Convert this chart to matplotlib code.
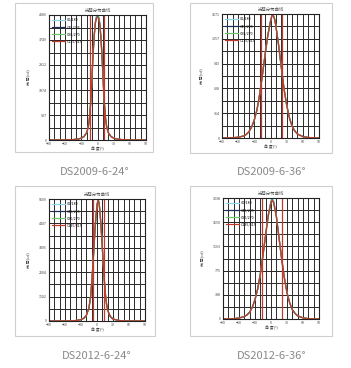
import matplotlib
matplotlib.use('Agg')
import matplotlib.pyplot as plt
from matplotlib.patches import Rectangle

plt.rcParams['font.family'] = ['Noto Sans CJK SC', 'DejaVu Sans']

W, H = 351, 368

# ---- data ----
series_names = ['C0/180', 'C45/225', 'C90/270', 'C135/315']
series_colors = ['#8fd3ea', '#1f2f5c', '#6cc46c', '#c0392b']

captions = ['DS2009-6-24°', 'DS2009-6-36°', 'DS2012-6-24°', 'DS2012-6-36°']
y_max = [4686, 1571, 5509, 1938]
beam_edges = [(-13, 12), (-18, 22), (-7, 13), (-16, 21)]

ang_a = [-90, -60, -45, -35, -30, -25, -20, -17, -15, -13, -12, -11, -10, -9, -8, -7, -6, -5, -4,
         -3, -2, -1, 0, 1, 2, 3, 4, 5, 6, 7, 8, 9, 10, 11, 12, 13, 15, 17, 20, 25, 30, 35, 45, 60, 90]
a_c0 = [0, 5, 15, 40, 70, 130, 280, 500, 800, 1300, 1650, 2050, 2500, 2900, 3300, 3650, 3950, 4200, 4420,
        4560, 4640, 4680, 4686, 4680, 4640, 4560, 4420, 4200, 3950, 3650, 3300, 2900, 2500, 2050, 1650, 1300, 800, 500, 280, 130, 70, 40, 15, 5, 0]
a_c45 = [0, 5, 15, 40, 70, 130, 280, 500, 800, 1300, 1640, 2040, 2480, 2880, 3280, 3630, 3930, 4180, 4390,
         4520, 4590, 4620, 4630, 4620, 4590, 4520, 4390, 4180, 3930, 3630, 3280, 2880, 2480, 2040, 1640, 1300, 800, 500, 280, 130, 70, 40, 15, 5, 0]
a_c90 = [0, 5, 15, 40, 70, 130, 280, 500, 800, 1290, 1630, 2030, 2470, 2870, 3270, 3620, 3920, 4170, 4380,
         4500, 4570, 4600, 4610, 4600, 4570, 4500, 4380, 4170, 3920, 3620, 3270, 2870, 2470, 2030, 1630, 1290, 800, 500, 280, 130, 70, 40, 15, 5, 0]
a_c135 = [0, 5, 15, 40, 70, 130, 280, 500, 800, 1280, 1620, 2020, 2460, 2860, 3260, 3610, 3900, 4150, 4360,
          4480, 4550, 4580, 4590, 4580, 4550, 4480, 4360, 4150, 3900, 3610, 3260, 2860, 2460, 2020, 1620, 1280, 800, 500, 280, 130, 70, 40, 15, 5, 0]

ang_b = [-90, -70, -60, -50, -45, -40, -35, -30, -25, -20, -15, -10, -5, 0, 3, 5, 8, 10, 15,
         20, 25, 30, 35, 40, 45, 50, 60, 70, 90]
b_c0 = [0, 3, 10, 25, 45, 80, 140, 230, 360, 560, 800, 1065, 1310, 1490, 1571, 1565, 1505, 1425, 1185,
        905, 635, 420, 260, 150, 90, 50, 18, 6, 0]
b_c45 = [0, 3, 10, 25, 45, 80, 140, 230, 360, 560, 800, 1060, 1300, 1480, 1560, 1555, 1500, 1420, 1180,
         900, 630, 420, 260, 150, 90, 50, 18, 6, 0]
b_c90 = [0, 3, 10, 25, 45, 80, 140, 230, 360, 558, 798, 1058, 1298, 1478, 1558, 1553, 1498, 1418, 1178,
         898, 628, 418, 258, 150, 90, 50, 18, 6, 0]
b_c135 = [0, 3, 10, 25, 45, 80, 140, 230, 360, 556, 796, 1056, 1296, 1476, 1555, 1550, 1495, 1415, 1175,
          895, 625, 415, 255, 150, 90, 50, 18, 6, 0]

ang_c = [-90, -50, -40, -30, -25, -20, -15, -12, -10, -8, -6, -4, -2, 0, 2, 4, 6, 8, 10,
         12, 14, 16, 18, 20, 25, 30, 40, 50, 90]
c_c0 = [0, 5, 20, 60, 120, 250, 600, 1100, 1700, 2420, 3230, 4040, 4750, 5260, 5509, 5340, 4830, 4130, 3330,
        2520, 1760, 1150, 750, 480, 200, 90, 25, 6, 0]
c_c45 = [0, 5, 20, 60, 120, 250, 600, 1100, 1700, 2410, 3210, 4020, 4720, 5230, 5490, 5320, 4810, 4110, 3310,
         2510, 1750, 1150, 750, 480, 200, 90, 25, 6, 0]
c_c90 = [0, 5, 20, 60, 120, 250, 600, 1100, 1700, 2400, 3200, 4010, 4710, 5210, 5480, 5310, 4800, 4100, 3300,
         2500, 1750, 1150, 750, 480, 200, 90, 25, 6, 0]
c_c135 = [0, 5, 20, 60, 120, 250, 600, 1100, 1700, 2400, 3200, 4000, 4700, 5200, 5470, 5300, 4800, 4100, 3300,
          2500, 1750, 1150, 750, 480, 200, 90, 25, 6, 0]

ang_d = [-90, -70, -60, -50, -45, -40, -35, -30, -25, -20, -15, -10, -5, 0, 2, 5, 10, 15,
         20, 25, 30, 35, 40, 45, 50, 60, 70, 90]
d_c0 = [0, 5, 15, 40, 65, 110, 190, 310, 480, 725, 1030, 1365, 1680, 1900, 1938, 1895, 1665, 1315,
        970, 665, 420, 260, 150, 90, 50, 18, 6, 0]
d_c45 = [0, 5, 15, 40, 65, 110, 190, 310, 480, 722, 1025, 1355, 1668, 1875, 1912, 1872, 1650, 1305,
         963, 662, 420, 260, 150, 90, 50, 18, 6, 0]
d_c90 = [0, 5, 15, 40, 65, 110, 190, 310, 480, 720, 1022, 1352, 1662, 1866, 1905, 1865, 1645, 1302,
         960, 660, 420, 260, 150, 90, 50, 18, 6, 0]
d_c135 = [0, 5, 15, 40, 65, 110, 190, 310, 480, 720, 1020, 1350, 1660, 1860, 1900, 1860, 1640, 1300,
          960, 660, 420, 260, 150, 90, 50, 18, 6, 0]

angles = [ang_a, ang_b, ang_c, ang_d]
values = [[a_c0, a_c45, a_c90, a_c135],
          [b_c0, b_c45, b_c90, b_c135],
          [c_c0, c_c45, c_c90, c_c135],
          [d_c0, d_c45, d_c90, d_c135]]

x_ticks = [-90, -60, -30, 0, 30, 60, 90]

# ---- layout in pixels: (left, right, top, bottom) ----
ax_px = [(49, 146, 15, 140), (222, 319, 14, 138), (49, 145, 199, 321), (223, 319, 198, 319)]
box_px = [(15, 153, 3, 152), (190, 332, 3, 153), (15, 155, 186, 336), (190, 332, 186, 336)]
cap_px = [(95, 172), (272, 172), (97, 356), (272, 356)]


def fx(x):
    return x / W


def fy(y):
    return 1 - y / H


fig = plt.figure(figsize=(W / 100, H / 100), dpi=100)

for i in range(4):
    l, r, t, b = box_px[i]
    fig.patches.append(Rectangle((fx(l), fy(b)), fx(r - l), (b - t) / H, transform=fig.transFigure,
                                 facecolor='none', edgecolor='#cfcfcf', linewidth=0.8, zorder=-5))

    l, r, t, b = ax_px[i]
    ax = fig.add_axes([fx(l), fy(b), fx(r - l), (b - t) / H])
    ym = y_max[i]
    for name, col, v in zip(series_names, series_colors, values[i]):
        ax.plot(angles[i], v, color=col, linewidth=0.9, label=name)
    for e in beam_edges[i]:
        ax.axvline(e, color='#c0392b', linewidth=0.9)

    ax.set_xlim(-90, 90)
    ax.set_ylim(0, ym)
    ax.set_xticks(x_ticks)
    ax.set_xticks(range(-90, 91, 10), minor=True)
    yt = [round(ym * k / 5) for k in range(6)]
    ax.set_yticks(yt)
    ax.set_yticks([ym * k / 10 for k in range(11)], minor=True)
    ax.grid(True, which='both', color='#2a2a2a', linewidth=0.7)
    ax.tick_params(which='both', length=0, labelsize=2.6, pad=1.5, colors='#444444')
    for s in ax.spines.values():
        s.set_color('#222222')
        s.set_linewidth(0.8)
    ax.set_xlabel('角 度(°)', fontsize=2.8, labelpad=0.5, color='#444444')
    ax.set_ylabel('光 强(cd)', fontsize=2.8, labelpad=6, color='#444444')
    ax.set_title('光强分布曲线', fontsize=3.2, pad=2.5, color='#555555')
    ax.legend(loc='upper left', fontsize=2.6, frameon=False, handlelength=3.5,
              borderaxespad=0.4, labelspacing=0.9, handletextpad=0.6)

    cx, cy = cap_px[i]
    fig.text(fx(cx), fy(cy), captions[i], ha='center', va='center', fontsize=8,
             color='#8a8a8a', fontweight='light')

fig.savefig('out.png', dpi=100)
